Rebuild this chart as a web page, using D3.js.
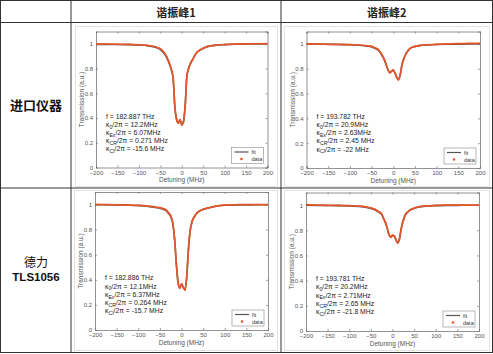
<!DOCTYPE html>
<html>
<head>
<meta charset="utf-8">
<script src="https://cdn.jsdelivr.net/npm/d3@7"></script>
<style>
  body { margin: 0; background: #fff; }
  svg { display: block; }
</style>
</head>
<body>
<svg width="493" height="354"></svg>
<script>
// column / row headings
var colTitles = ["谐振峰1", "谐振峰2"]
var rowTitles = [["进口仪器"], ["德力", "TLS1056"]]

// detuning grid (MHz) shared by all four traces
var detuning = [-200,-175,-150,-125,-100,-80,-60,-50,-40,-35,-30,-25,-20,-16,-12,-8,-4,0,4,8,12,16,20,25,30,35,40,50,60,80,100,125,150,175,200]

var data11 = [0.998,0.999,0.997,0.996,0.993,0.988,0.975,0.96,0.925,0.895,0.855,0.805,0.725,0.49,0.39,0.36,0.385,0.345,0.37,0.5,0.74,0.8,0.84,0.87,0.905,0.93,0.945,0.965,0.98,0.99,0.995,0.998,1.0,1.001,1.002]
var data12 = [1.0,0.999,0.997,0.996,0.994,0.991,0.985,0.98,0.965,0.955,0.935,0.905,0.87,0.83,0.79,0.768,0.78,0.79,0.765,0.73,0.712,0.75,0.83,0.887,0.925,0.95,0.967,0.98,0.987,0.993,0.997,1.0,1.002,1.004,1.005]
var data21 = [1.002,1.0,0.998,0.996,0.994,0.99,0.98,0.975,0.965,0.955,0.935,0.91,0.85,0.73,0.53,0.38,0.335,0.366,0.34,0.32,0.42,0.64,0.79,0.87,0.905,0.93,0.945,0.962,0.972,0.988,0.995,0.998,1.0,1.0,1.0]
var data22 = [1.003,1.0,0.998,0.997,0.995,0.992,0.985,0.977,0.965,0.955,0.945,0.93,0.89,0.86,0.815,0.765,0.745,0.76,0.755,0.725,0.7,0.73,0.81,0.88,0.925,0.945,0.96,0.975,0.986,0.994,0.997,0.999,1.0,1.0,1.0]

// fitted curves
var fit11 = [0.996,0.996,0.995,0.994,0.991,0.985,0.97,0.953,0.917,0.887,0.847,0.797,0.715,0.48,0.39,0.36,0.385,0.345,0.37,0.5,0.74,0.8,0.84,0.87,0.903,0.928,0.943,0.963,0.977,0.989,0.994,0.997,0.998,0.999,0.999]
var fit12 = [0.998,0.998,0.997,0.995,0.993,0.989,0.982,0.976,0.961,0.951,0.931,0.901,0.867,0.828,0.79,0.768,0.78,0.788,0.765,0.73,0.712,0.75,0.83,0.886,0.924,0.949,0.966,0.979,0.986,0.992,0.995,0.997,0.998,0.999,0.999]
var fit21 = [0.998,0.998,0.997,0.995,0.992,0.987,0.976,0.97,0.959,0.949,0.929,0.904,0.845,0.725,0.53,0.38,0.335,0.366,0.34,0.32,0.42,0.64,0.79,0.87,0.904,0.929,0.944,0.961,0.971,0.987,0.994,0.996,0.997,0.998,0.998]
var fit22 = [0.999,0.998,0.997,0.996,0.994,0.99,0.982,0.973,0.96,0.95,0.94,0.925,0.886,0.857,0.813,0.765,0.745,0.76,0.755,0.725,0.7,0.73,0.81,0.879,0.924,0.944,0.959,0.974,0.985,0.993,0.996,0.998,0.998,0.999,0.999]

// fit parameters
var freqs = ["182.887", "193.782", "182.886", "193.781"]
var kappa0 = ["12.2MHz", "20.9MHz", "12.1MHz", "20.2MHz"]
var kappaEx = ["6.07MHz", "2.63MHz", "6.37MHz", "2.71MHz"]
var kappaCR = ["0.271 MHz", "2.45 MHz", "0.264 MHz", "2.65 MHz"]
var kappaCI = ["-15.6 MHz", "-22 MHz", "-15.7 MHz", "-21.8 MHz"]

var xTicks = [-200,-150,-100,-50,0,50,100,150,200]
var yTicks = [0,0.2,0.4,0.6,0.8,1]

var svg = d3.select("svg")
var orange = "#e4572a"
var font = "Liberation Sans, Arial, sans-serif"

// table grid
var colX = [0.5, 71, 281, 492.5]
var rowY = [0.5, 22.5, 188, 352.5]
svg.append("rect").attr("x", 0.5).attr("y", 0.5).attr("width", 492).attr("height", 352)
   .attr("fill", "none").attr("stroke", "#333").attr("stroke-width", 1)
colX.slice(1, 3).forEach(function (x) {
  svg.append("line").attr("x1", x).attr("x2", x).attr("y1", 0.5).attr("y2", 352.5)
     .attr("stroke", "#333")
})
rowY.slice(1, 3).forEach(function (y) {
  svg.append("line").attr("x1", 0.5).attr("x2", 492.5).attr("y1", y).attr("y2", y)
     .attr("stroke", "#333")
})

colTitles.forEach(function (t, i) {
  svg.append("text").attr("x", (colX[i + 1] + colX[i + 2]) / 2).attr("y", 16.5)
     .attr("text-anchor", "middle").attr("font-family", "Noto Sans CJK SC, sans-serif")
     .attr("font-size", "11px").attr("font-weight", "bold").attr("fill", "#222").text(t)
})

svg.append("text").attr("x", 36).attr("y", 109.5).attr("text-anchor", "middle")
   .attr("font-family", "Noto Sans CJK SC, sans-serif").attr("font-size", "13px")
   .attr("font-weight", "bold").attr("fill", "#111").text(rowTitles[0][0])
svg.append("text").attr("x", 36).attr("y", 267).attr("text-anchor", "middle")
   .attr("font-family", "Noto Sans CJK SC, sans-serif").attr("font-size", "12px")
   .attr("fill", "#111").text(rowTitles[1][0])
svg.append("text").attr("x", 36).attr("y", 281).attr("text-anchor", "middle")
   .attr("font-family", "Liberation Sans, Arial, sans-serif").attr("font-size", "11.5px")
   .attr("font-weight", "bold").attr("fill", "#111").text(rowTitles[1][1])

var panels = [
  { l: 96, r: 267.5, t: 31.5, b: 167.5, frame: [75, 26, 277, 186], data: data11, fit: fit11 },
  { l: 306.5, r: 480, t: 31.5, b: 168, frame: [284, 26, 489, 186], data: data12, fit: fit12 },
  { l: 95, r: 268, t: 192, b: 330, frame: [74, 190, 277, 350], data: data21, fit: fit21 },
  { l: 306, r: 479, t: 192.5, b: 331, frame: [284, 190, 489, 350], data: data22, fit: fit22 }
]

panels.forEach(function (p, k) {
  var f = p.frame
  svg.append("rect").attr("x", f[0] + 0.5).attr("y", f[1] + 0.5)
     .attr("width", f[2] - f[0]).attr("height", f[3] - f[1])
     .attr("fill", "none").attr("stroke", "#e2e2e2")

  var x = d3.scaleLinear().domain([-200, 200]).range([p.l, p.r])
  var y = d3.scaleLinear().domain([0, 1.1]).range([p.b, p.t])
  var g = svg.append("g")

  var clip = "clip" + k
  g.append("clipPath").attr("id", clip).append("rect")
   .attr("x", p.l).attr("y", p.t).attr("width", p.r - p.l).attr("height", p.b - p.t)

  // axes with inward ticks, MATLAB box style
  g.append("g").attr("transform", "translate(0," + p.b + ")")
   .call(d3.axisBottom(x).tickValues(xTicks).tickSize(-2).tickPadding(3))
  g.append("g").attr("transform", "translate(" + p.l + ",0)")
   .call(d3.axisLeft(y).tickValues(yTicks).tickSize(-2).tickPadding(3)
   .tickFormat(function (d) { return d === 0 ? "0" : d3.format("")(+d.toFixed(1)) }))
  g.append("g").attr("transform", "translate(0," + p.t + ")")
   .call(d3.axisTop(x).tickValues(xTicks).tickSize(-2).tickFormat(""))
  g.append("g").attr("transform", "translate(" + p.r + ",0)")
   .call(d3.axisRight(y).tickValues(yTicks).tickSize(-2).tickFormat(""))
  g.selectAll(".domain").attr("stroke", "#777").attr("stroke-width", 0.8)
  g.selectAll(".tick line").attr("stroke", "#777").attr("stroke-width", 0.7)
  g.selectAll(".tick text").attr("font-family", font).attr("font-size", "6px").attr("fill", "#555")

  g.append("text").attr("x", (p.l + p.r) / 2).attr("y", p.b + 14.5).attr("text-anchor", "middle")
   .attr("font-family", font).attr("font-size", "6.5px").attr("fill", "#555").text("Detuning (MHz)")
  g.append("text").attr("transform", "translate(" + (p.l - 12) + "," + ((p.t + p.b) / 2) + ") rotate(-90)")
   .attr("text-anchor", "middle").attr("font-family", font).attr("font-size", "6.5px")
   .attr("fill", "#555").text("Transmission (a.u.)")

  var pts = detuning.map(function (d, i) { return [d, p.data[i]] })
  var fpts = detuning.map(function (d, i) { return [d, p.fit[i]] })
  var line = d3.line().x(function (d) { return x(d[0]) }).y(function (d) { return y(d[1]) })
               .curve(d3.curveMonotoneX)

  var plot = g.append("g").attr("clip-path", "url(#" + clip + ")")
  plot.append("path").datum(fpts).attr("d", line).attr("fill", "none")
      .attr("stroke", "#555").attr("stroke-width", 1.6)
  plot.append("path").datum(pts).attr("d", line).attr("fill", "none")
      .attr("stroke", orange).attr("stroke-width", 1.7)
  plot.selectAll("circle").data(pts).enter().append("circle")
      .attr("cx", function (d) { return x(d[0]) }).attr("cy", function (d) { return y(d[1]) })
      .attr("r", 0.9).attr("fill", orange)

  // parameter block
  var tx = p.l + 10, ty = y(0.4) + 0.5
  var ann = g.append("g").attr("font-family", font).attr("font-size", "6.8px").attr("fill", "#222")
  ann.append("text").attr("x", tx).attr("y", ty).text("f = " + freqs[k] + " THz")
  var rows = [["0", kappa0[k]], ["Ex", kappaEx[k]], ["CR", kappaCR[k]], ["CI", kappaCI[k]]]
  rows.forEach(function (r, i) {
    var t = ann.append("text").attr("x", tx).attr("y", ty + 8.2 * (i + 1))
    t.append("tspan").text("κ")
    t.append("tspan").attr("dy", 1.8).attr("font-size", "5.2px").text(r[0])
    t.append("tspan").attr("dy", -1.8).text("/2π = " + r[1])
  })

  // legend
  var lw = 32, lh = 16, lx = p.r - 4 - lw, ly = p.b - 4 - lh
  var lg = g.append("g")
  lg.append("rect").attr("x", lx).attr("y", ly).attr("width", lw).attr("height", lh)
    .attr("fill", "#fff").attr("stroke", "#888").attr("stroke-width", 0.6)
  lg.append("line").attr("x1", lx + 3).attr("x2", lx + 17).attr("y1", ly + 4.5).attr("y2", ly + 4.5)
    .attr("stroke", "#555").attr("stroke-width", 1.2)
  lg.append("circle").attr("cx", lx + 10).attr("cy", ly + 11.5).attr("r", 1.3).attr("fill", orange)
  lg.append("text").attr("x", lx + 20).attr("y", ly + 6.5).attr("font-family", font)
    .attr("font-size", "5.5px").attr("fill", "#333").text("fit")
  lg.append("text").attr("x", lx + 20).attr("y", ly + 13.5).attr("font-family", font)
    .attr("font-size", "5.5px").attr("fill", "#333").text("data")
})
</script>
</body>
</html>
